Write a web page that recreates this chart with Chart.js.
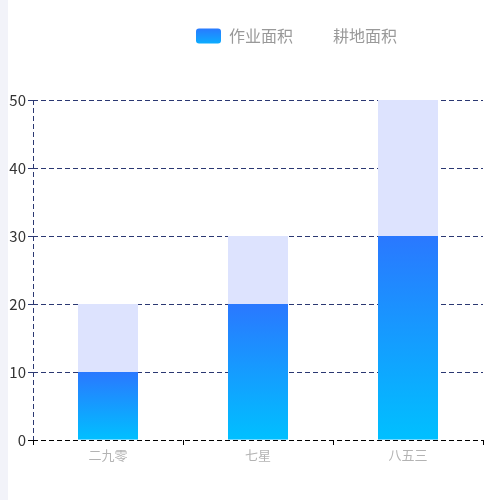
<!DOCTYPE html>
<html>
<head>
<meta charset="utf-8">
<script src="https://cdn.jsdelivr.net/npm/chart.js@4/dist/chart.umd.min.js"></script>
<style>
  html, body { margin: 0; padding: 0; background: #f2f3f9; }
  #wrap { position: absolute; left: 8px; top: 0; width: 492px; height: 500px; background: #fff; }
</style>
</head>
<body>
<div id="wrap"><canvas id="c"></canvas></div>
<script>
const categories = ['二九零', '七星', '八五三'];
const workArea = [10, 20, 30];
const farmArea = [20, 30, 50];
const yTicks = [0, 10, 20, 30, 40, 50];

const FONT = '"Noto Sans CJK SC", "Noto Sans", sans-serif';
const GRID = '#2b3872';

function barGradient(ctx) {
  const chart = ctx.chart;
  const y = chart.scales && chart.scales.y;
  if (!y || ctx.type !== 'data') return '#2a78ff';
  const top = y.getPixelForValue(ctx.raw);
  const base = y.getPixelForValue(0);
  if (!isFinite(top) || !isFinite(base) || top === base) return '#2a78ff';
  const g = chart.ctx.createLinearGradient(0, top, 0, base);
  g.addColorStop(0, '#2a78ff');
  g.addColorStop(1, '#00c0ff');
  return g;
}

const layoutTweak = {
  id: 'layoutTweak',
  beforeLayout(chart) {
    const lg = chart.legend;
    if (lg && !lg._patched) {
      const f = lg.fit;
      lg.fit = function () { f.call(this); this.height += 46; };
      lg._patched = true;
    }
  },
  afterLayout(chart) {
    if (chart.legend) chart.legend.left = 181;
  },
  beforeDraw(chart) {
    const lg = chart.legend;
    if (!lg || !lg.legendHitBoxes || !lg.legendHitBoxes[0]) return;
    const hb = lg.legendHitBoxes[0];
    const g = chart.ctx.createLinearGradient(0, hb.top, 0, hb.top + hb.height);
    g.addColorStop(0, '#2a78ff');
    g.addColorStop(1, '#0aaeff');
    lg.legendItems[0].fillStyle = g;
  }
};

new Chart(document.getElementById('c'), {
  type: 'bar',
  data: {
    labels: categories,
    datasets: [
      {
        label: '作业面积',
        data: workArea,
        backgroundColor: barGradient,
        grouped: false,
        order: 0,
        barPercentage: 0.4,
        categoryPercentage: 1
      },
      {
        label: '耕地面积',
        data: farmArea,
        backgroundColor: '#dde3fe',
        grouped: false,
        order: 1,
        barPercentage: 0.4,
        categoryPercentage: 1
      }
    ]
  },
  plugins: [layoutTweak],
  options: {
    responsive: true,
    maintainAspectRatio: false,
    animation: false,
    layout: { padding: { top: 21, right: 17, left: 0, bottom: 0 } },
    plugins: {
      tooltip: { enabled: false },
      legend: {
        display: true,
        position: 'top',
        align: 'start',
        labels: {
          font: { family: FONT, size: 16 },
          color: '#999999',
          boxWidth: 25,
          boxHeight: 15,
          padding: 7,
          useBorderRadius: true,
          borderRadius: 3,
          generateLabels(chart) {
            const items = Chart.defaults.plugins.legend.labels.generateLabels(chart);
            items.forEach((it, i) => {
              it.lineWidth = 0;
              it.strokeStyle = 'rgba(0,0,0,0)';
              if (i === 1) it.fillStyle = 'rgba(0,0,0,0)';
              if (i === 0) it.fillStyle = '#1a8cff';
            });
            return items;
          }
        }
      }
    },
    scales: {
      x: {
        afterFit(s) { s.height = 60; },
        grid: {
          display: true,
          drawOnChartArea: true,
          drawTicks: true,
          tickLength: 5,
          tickColor: '#000',
          color: (c) => c.index === 0 ? GRID : 'rgba(0,0,0,0)',
          offset: true
        },
        border: { display: false, dash: [5, 3] },
        ticks: {
          color: '#b3b3b3',
          font: { family: FONT, size: 13 },
          padding: 2
        }
      },
      y: {
        min: 0,
        max: 50,
        afterFit(s) { s.width = 25; },
        afterBuildTicks(s) { s.ticks = yTicks.map(v => ({ value: v })); },
        grid: {
          color: (c) => c.index === 0 ? '#000' : GRID,
          tickColor: (c) => c.index === 0 ? '#000' : GRID,
          tickLength: 5,
          tickBorderDash: [],
          drawTicks: true
        },
        border: { display: false, dash: [5, 3] },
        ticks: {
          color: '#333',
          font: { family: FONT, size: 15 },
          padding: 2
        }
      }
    }
  }
});
</script>
</body>
</html>
